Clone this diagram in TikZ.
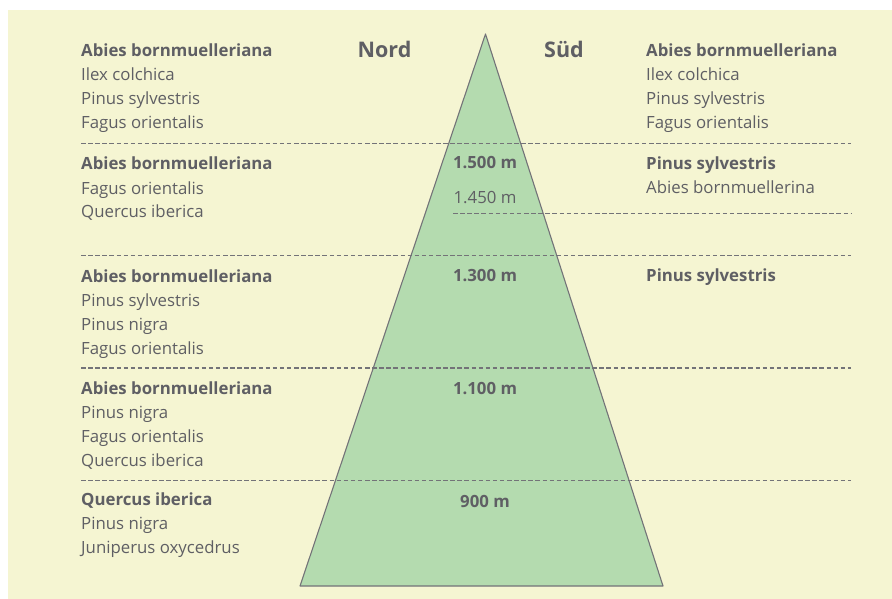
\documentclass[tikz,border=0pt]{standalone}
\usepackage{fontspec}
\setmainfont{Open Sans}
\definecolor{bgc}{RGB}{245,245,210}
\definecolor{treec}{RGB}{180,219,175}
\definecolor{txtc}{RGB}{95,95,100}
\definecolor{linec}{RGB}{115,115,120}
\begin{document}
\begin{tikzpicture}[x=1pt,y=-1pt,
  sp/.style={anchor=base west,inner sep=0pt,text=txtc,font=\fontsize{16.8}{20}\selectfont},
  spb/.style={sp,font=\fontsize{16.8}{20}\selectfont\bfseries},
  alt/.style={anchor=base,inner sep=0pt,text=txtc,font=\fontsize{16.8}{20}\selectfont},
  altb/.style={alt,font=\fontsize{16.8}{20}\selectfont\bfseries},
  head/.style={anchor=base,inner sep=0pt,text=txtc,font=\fontsize{21.5}{24}\selectfont\bfseries},
  zone/.style={draw=linec,line width=1.2pt,dash pattern=on 4.5pt off 2.6pt}]
\useasboundingbox (0,0) rectangle (892,599);
\fill[bgc] (8,10) rectangle (892,599);
% mountain
\coordinate (apex) at (485.5,34);
\coordinate (bl) at (300,586);
\coordinate (br) at (663,586);
\filldraw[fill=treec,draw=linec,line width=1.1pt,line join=round] (apex) -- (br) -- (bl) -- cycle;
% zone lines
\coordinate (l1a) at (81,143.3); \coordinate (l1b) at (851,143.3);
\coordinate (l2a) at (453,213.3); \coordinate (l2b) at (851,213.3);
\coordinate (l3a) at (81,255.6); \coordinate (l3b) at (851,255.6);
\coordinate (l4a) at (81,368); \coordinate (l4b) at (851,368);
\coordinate (l5a) at (81,480.3); \coordinate (l5b) at (851,480.3);
\draw[zone] (l1a) -- (l1b);
\draw[zone] (l2a) -- (l2b);
\draw[zone] (l3a) -- (l3b);
\draw[zone] (l4a) -- (l4b);
\draw[zone] (l5a) -- (l5b);
% headings
\node[head] (nord) at (384.5,58) {Nord};
\node[head] (sued) at (564,58) {Süd};
% left column
\node[spb] (a1) at (81,56.7) {Abies bornmuelleriana};
\node[sp] (a2) at (81,80.7) {Ilex colchica};
\node[sp] (a3) at (81,104.7) {Pinus sylvestris};
\node[sp] (a4) at (81,128.7) {Fagus orientalis};
\node[spb] (b1) at (81,170) {Abies bornmuelleriana};
\node[sp] (b2) at (81,194) {Fagus orientalis};
\node[sp] (b3) at (81,218) {Quercus iberica};
\node[spb] (c1) at (81,282) {Abies bornmuelleriana};
\node[sp] (c2) at (81,306) {Pinus sylvestris};
\node[sp] (c3) at (81,330) {Pinus nigra};
\node[sp] (c4) at (81,354) {Fagus orientalis};
\node[spb] (d1) at (81,394) {Abies bornmuelleriana};
\node[sp] (d2) at (81,418) {Pinus nigra};
\node[sp] (d3) at (81,442) {Fagus orientalis};
\node[sp] (d4) at (81,466) {Quercus iberica};
\node[spb] (e1) at (81,505.5) {Quercus iberica};
\node[sp] (e2) at (81,529.5) {Pinus nigra};
\node[sp] (e3) at (81,553.5) {Juniperus oxycedrus};
% right column
\node[spb] (r1) at (646,56.7) {Abies bornmuelleriana};
\node[sp] (r2) at (646,80.7) {Ilex colchica};
\node[sp] (r3) at (646,104.7) {Pinus sylvestris};
\node[sp] (r4) at (646,128.7) {Fagus orientalis};
\node[spb] (s1) at (646,169.5) {Pinus sylvestris};
\node[sp] (s2) at (646,193.5) {Abies bornmuellerina};
\node[spb] (t1) at (646,281.7) {Pinus sylvestris};
% altitudes
\node[altb] (h1500) at (485,168.3) {1.500 m};
\node[alt] (h1450) at (485,203.3) {1.450 m};
\node[altb] (h1300) at (485,281.5) {1.300 m};
\node[altb] (h1100) at (485,394) {1.100 m};
\node[altb] (h900) at (485,507) {900 m};
\end{tikzpicture}
\end{document}
